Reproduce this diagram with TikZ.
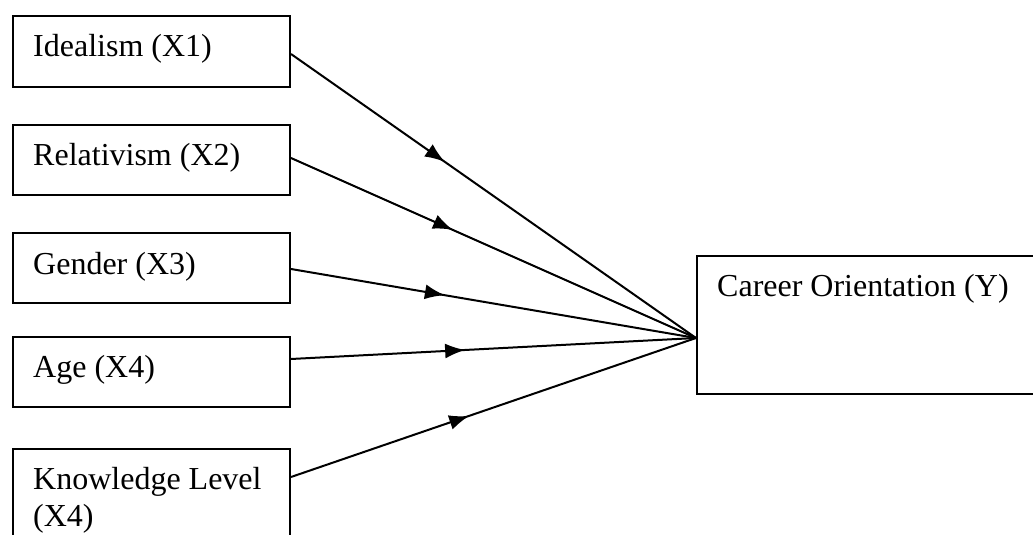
\documentclass[tikz,border=0pt]{standalone}
\usepackage{fontspec}
\setmainfont{Liberation Serif}
\usetikzlibrary{arrows.meta,decorations.markings,calc}
\tikzset{
  box/.style={draw=black, line width=2pt, fill=white, anchor=north west, inner sep=0pt},
  lbl/.style={anchor=base west, inner sep=0pt, font=\fontsize{32pt}{37pt}\selectfont, align=left},
  conn/.style={draw=black, line width=2pt},
  midarrow/.style={postaction={decorate, decoration={markings,
      mark=at position #1 with {\arrow{Latex[length=20pt,width=15pt]}}}}}
}
\begin{document}
\begin{tikzpicture}[x=1pt,y=-1pt]
\path[use as bounding box] (0,0) rectangle (1033,535);
\clip (0,0) rectangle (1033,535);
\fill[white] (0,0) rectangle (1033,535);
% boxes
\node[box, minimum width=277pt, minimum height=71pt] (x1) at (12,15) {};
\node[box, minimum width=277pt, minimum height=70pt] (x2) at (12,124) {};
\node[box, minimum width=277pt, minimum height=70pt] (x3) at (12,232) {};
\node[box, minimum width=277pt, minimum height=70pt] (x4) at (12,336) {};
\node[box, minimum width=277pt, minimum height=110pt] (x5) at (12,448) {};
\node[box, minimum width=360pt, minimum height=138pt] (y) at (696,255) {};
% labels
\node[lbl] (x1t) at ($(x1.north west)+(21,42)$) {Idealism (X1)};
\node[lbl] (x2t) at ($(x2.north west)+(21,41)$) {Relativism (X2)};
\node[lbl] (x3t) at ($(x3.north west)+(21,42)$) {Gender (X3)};
\node[lbl] (x4t) at ($(x4.north west)+(21,41)$) {Age (X4)};
\node[lbl] (x5t) at ($(x5.north west)+(21,78)$) {Knowledge Level\\(X4)};
\node[lbl] (yt) at ($(y.north west)+(21,41)$) {Career Orientation (Y)};
% connectors
\coordinate (yin) at ($(y.north west)+(0,83)$);
\draw[conn, midarrow=0.38] ($(x1.north east)+(0,39)$) -- (yin);
\draw[conn, midarrow=0.40] ($(x2.north east)+(0,34)$) -- (yin);
\draw[conn, midarrow=0.38] ($(x3.north east)+(0,37)$) -- (yin);
\draw[conn, midarrow=0.43] ($(x4.north east)+(0,23)$) -- (yin);
\draw[conn, midarrow=0.44] ($(x5.north east)+(0,29)$) -- (yin);
\end{tikzpicture}
\end{document}
